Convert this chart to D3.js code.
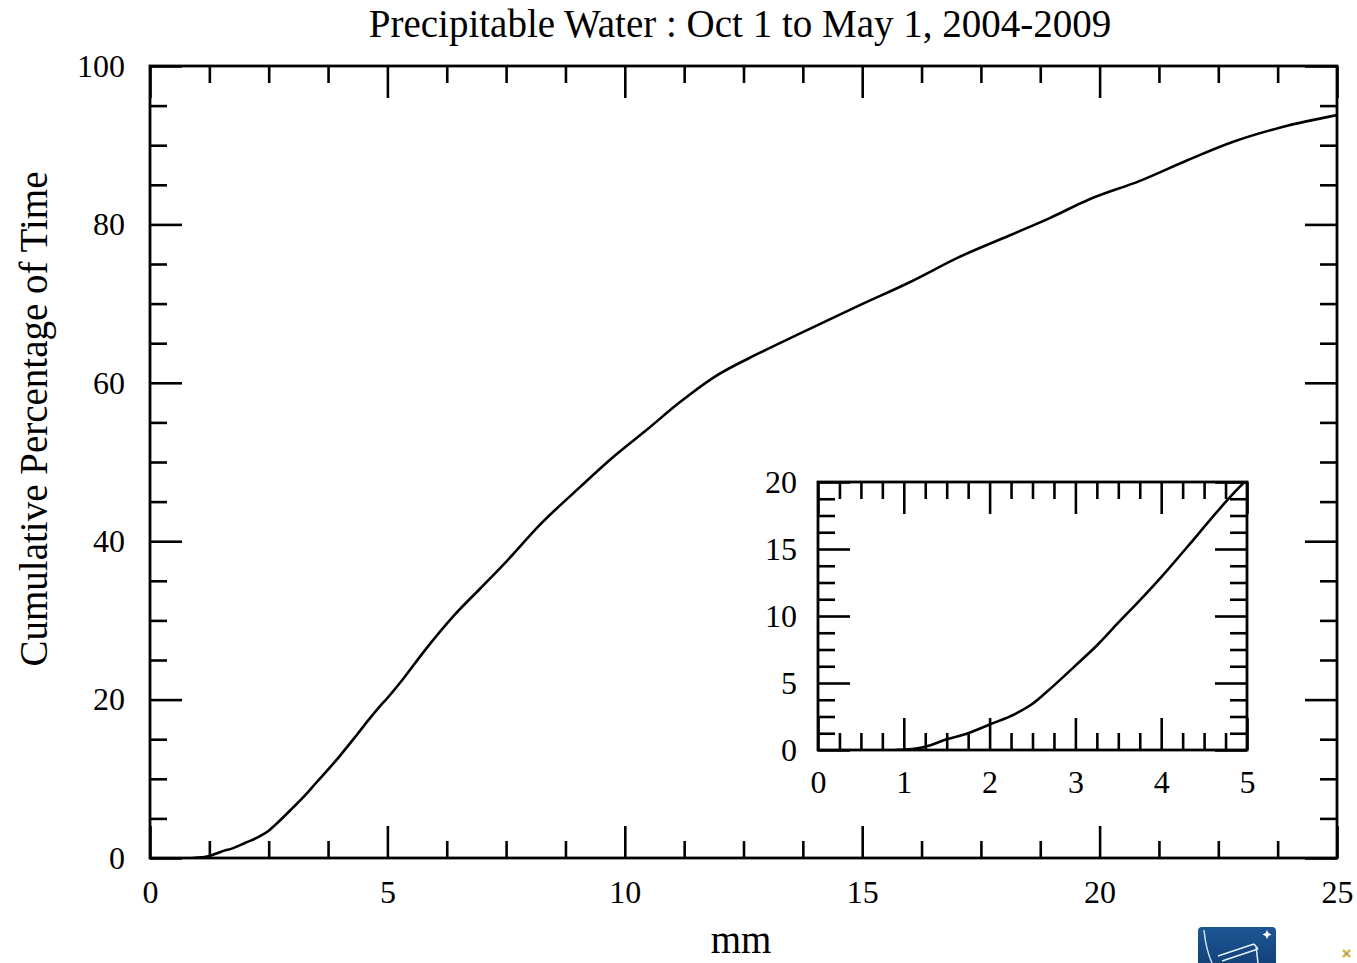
<!DOCTYPE html>
<html>
<head>
<meta charset="utf-8">
<script src="https://cdn.jsdelivr.net/npm/d3@7"></script>
<style>
  html, body { margin: 0; padding: 0; background: #fff; }
  svg { display: block; }
  text { font-family: "Liberation Serif", "DejaVu Serif", serif; fill: #000; }
</style>
</head>
<body>
<svg id="chart" width="1357" height="963"></svg>
<script>
// ---- data ----
const titleText = "Precipitable Water : Oct 1 to May 1, 2004-2009";
const xLabelText = "mm";
const yLabelText = "Cumulative Percentage of Time";

const pwMM = [0.9, 1.1, 1.25, 1.5, 1.75, 2.0, 2.3, 2.5, 2.65, 2.85, 3.0, 3.25, 3.5, 3.8, 4.0, 4.35, 4.6, 4.85, 5.0,
              5.33, 5.76, 6.4, 6.95, 7.5, 8.2, 9.05, 9.75, 10.45, 11.15, 11.85, 12.85, 13.75, 14.95, 16.0, 17.05,
              18.1, 18.95, 19.8, 20.85, 21.85, 22.8, 23.85, 25.0];
const cumPct = [0, 0.08, 0.25, 0.8, 1.25, 1.9, 2.7, 3.45, 4.25, 5.4, 6.3, 7.8, 9.5, 11.5, 12.9, 15.5, 17.4, 19.2, 20.2,
                22.6, 26.0, 30.6, 34.0, 37.4, 42.0, 46.8, 50.6, 54.0, 57.5, 60.6, 63.8, 66.4, 69.8, 72.7, 75.9,
                78.6, 80.8, 83.2, 85.5, 88.1, 90.4, 92.3, 93.8];

const mainXTicks = [0, 5, 10, 15, 20, 25];
const mainYTicks = [0, 20, 40, 60, 80, 100];
const insetXTicks = [0, 1, 2, 3, 4, 5];
const insetYTicks = [0, 5, 10, 15, 20];

const points = pwMM.map((v, i) => ({ x: v, y: cumPct[i] }));

// ---- layout ----
const svg = d3.select("#chart");
const M = { left: 150, right: 1337, top: 66, bottom: 858 };
const I = { left: 818, right: 1247, top: 482, bottom: 750 };
const MAJ = 32, MIN = 17;

function range(a, b, step) {
  const out = [];
  for (let i = 0; a + i * step <= b + 1e-9; i++) out.push(+(a + i * step).toFixed(4));
  return out;
}

function drawPanel(box, xDomain, yDomain, xMajor, yMajor, xMinorStep, yMinorStep, clipId, fontSize, xPad, yPad) {
  const x = d3.scaleLinear().domain(xDomain).range([box.left, box.right]);
  const y = d3.scaleLinear().domain(yDomain).range([box.bottom, box.top]);
  const g = svg.append("g");

  g.append("rect").attr("x", box.left).attr("y", box.top)
    .attr("width", box.right - box.left).attr("height", box.bottom - box.top)
    .attr("fill", "#fff");

  const xMinor = range(xDomain[0], xDomain[1], xMinorStep).filter(v => !xMajor.includes(v));
  const yMinor = range(yDomain[0], yDomain[1], yMinorStep).filter(v => !yMajor.includes(v));

  function styleAxis(sel, labels) {
    sel.select(".domain").remove();
    sel.selectAll(".tick line").attr("stroke", "#000").attr("stroke-width", 2.6);
    sel.selectAll(".tick text").style("font-size", fontSize + "px")
      .style("font-family", "'Liberation Serif', serif").attr("fill", "#000");
    if (!labels) sel.selectAll(".tick text").remove();
  }

  // bottom
  g.append("g").attr("transform", `translate(0,${box.bottom})`)
    .call(d3.axisBottom(x).tickValues(xMinor).tickSizeInner(-MIN).tickSizeOuter(0).tickFormat(""))
    .call(s => styleAxis(s, false));
  g.append("g").attr("transform", `translate(0,${box.bottom})`)
    .call(d3.axisBottom(x).tickValues(xMajor).tickSizeInner(-MAJ).tickSizeOuter(0).tickPadding(xPad).tickFormat(d3.format("d")))
    .call(s => styleAxis(s, true));
  // top
  g.append("g").attr("transform", `translate(0,${box.top})`)
    .call(d3.axisTop(x).tickValues(xMinor).tickSizeInner(-MIN).tickSizeOuter(0).tickFormat(""))
    .call(s => styleAxis(s, false));
  g.append("g").attr("transform", `translate(0,${box.top})`)
    .call(d3.axisTop(x).tickValues(xMajor).tickSizeInner(-MAJ).tickSizeOuter(0).tickFormat(""))
    .call(s => styleAxis(s, false));
  // left
  g.append("g").attr("transform", `translate(${box.left},0)`)
    .call(d3.axisLeft(y).tickValues(yMinor).tickSizeInner(-MIN).tickSizeOuter(0).tickFormat(""))
    .call(s => styleAxis(s, false));
  g.append("g").attr("transform", `translate(${box.left},0)`)
    .call(d3.axisLeft(y).tickValues(yMajor).tickSizeInner(-MAJ).tickSizeOuter(0).tickPadding(yPad).tickFormat(d3.format("d")))
    .call(s => styleAxis(s, true));
  // right
  g.append("g").attr("transform", `translate(${box.right},0)`)
    .call(d3.axisRight(y).tickValues(yMinor).tickSizeInner(-MIN).tickSizeOuter(0).tickFormat(""))
    .call(s => styleAxis(s, false));
  g.append("g").attr("transform", `translate(${box.right},0)`)
    .call(d3.axisRight(y).tickValues(yMajor).tickSizeInner(-MAJ).tickSizeOuter(0).tickFormat(""))
    .call(s => styleAxis(s, false));

  // curve
  svg.append("clipPath").attr("id", clipId).append("rect")
    .attr("x", box.left).attr("y", box.top - 1)
    .attr("width", box.right - box.left).attr("height", box.bottom - box.top + 1);
  const line = d3.line().x(d => x(d.x)).y(d => y(d.y)).curve(d3.curveMonotoneX);
  g.append("path").datum(points).attr("d", line)
    .attr("fill", "none").attr("stroke", "#000").attr("stroke-width", 2.6)
    .attr("stroke-linejoin", "round").attr("clip-path", `url(#${clipId})`);

  // frame
  g.append("rect").attr("x", box.left).attr("y", box.top)
    .attr("width", box.right - box.left).attr("height", box.bottom - box.top)
    .attr("fill", "none").attr("stroke", "#000").attr("stroke-width", 2.8);
  return { x, y };
}

drawPanel(M, [0, 25], [0, 100], mainXTicks, mainYTicks, 1.25, 5, "clipMain", 32, 22, 25);
drawPanel(I, [0, 5], [0, 20], insetXTicks, insetYTicks, 0.25, 1.25, "clipInset", 32, 20, 21);

// titles
svg.append("text").attr("x", 740).attr("y", 37).attr("text-anchor", "middle")
  .style("font-size", "39px").text(titleText);
svg.append("text").attr("x", 741).attr("y", 953).attr("text-anchor", "middle")
  .style("font-size", "39px").text(xLabelText);
svg.append("text").attr("transform", "translate(47,419) rotate(-90)").attr("text-anchor", "middle")
  .style("font-size", "39px").text(yLabelText);

// logo decorations (bottom right)
const logo = svg.append("g");
const grad = svg.append("defs").append("linearGradient").attr("id", "lg")
  .attr("x1", 0).attr("y1", 0).attr("x2", 0).attr("y2", 1);
grad.append("stop").attr("offset", "0%").attr("stop-color", "#1d5694");
grad.append("stop").attr("offset", "100%").attr("stop-color", "#0f3a70");
logo.append("rect").attr("x", 1198).attr("y", 927).attr("width", 78).attr("height", 50).attr("rx", 4)
  .attr("fill", "url(#lg)");
logo.append("path").attr("d", "M1204,930 Q1206,950 1212,963").attr("stroke", "#cfe0f5").attr("stroke-width", 1.5).attr("fill", "none");
logo.append("path").attr("d", "M1218,956 L1254,944 M1222,961 L1258,949 M1254,944 L1258,949 M1256,946 L1258,963")
  .attr("stroke", "#e8f0fa").attr("stroke-width", 1.5).attr("fill", "none");
logo.append("path").attr("d", "M1267,930 l1.5,3 3,1.5 -3,1.5 -1.5,3 -1.5,-3 -3,-1.5 3,-1.5 z").attr("fill", "#fff");
logo.append("path").attr("d", "M1343,950 L1350,957 M1350,950 L1343,957")
  .attr("stroke", "#d9b84a").attr("stroke-width", 2.5);
logo.append("circle").attr("cx", 1346.5).attr("cy", 953.5).attr("r", 1.5).attr("fill", "#9a9a9a");
</script>
</body>
</html>
